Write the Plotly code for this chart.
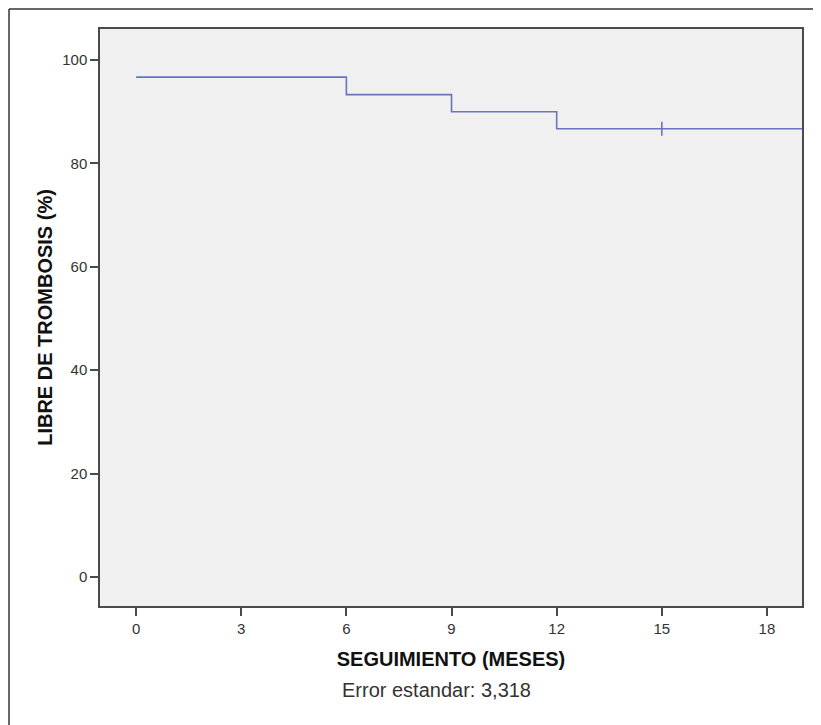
import plotly.graph_objects as go

# Kaplan-Meier data
event_months = [0, 6, 9, 12, 20]
survival_pct = [96.7, 93.3, 90.0, 86.7, 86.7]
censored_months = [15]
censored_pct = [86.7]

x_ticks = [0, 3, 6, 9, 12, 15, 18]
y_ticks = [0, 20, 40, 60, 80, 100]

line_color = "rgb(104,116,192)"
axis_color = "#4a4a4a"
font_family = "Arial, Liberation Sans, sans-serif"

fig = go.Figure()
fig.add_trace(go.Scatter(
    x=event_months, y=survival_pct, mode="lines",
    line=dict(shape="hv", color=line_color, width=1.6),
    showlegend=False, hoverinfo="skip"))
fig.add_trace(go.Scatter(
    x=censored_months, y=censored_pct, mode="markers",
    marker=dict(symbol="line-ns", size=10, line=dict(color=line_color, width=1.6)),
    showlegend=False, hoverinfo="skip"))

fig.update_layout(
    width=813, height=717,
    margin=dict(l=92, r=19, t=21, b=119),
    paper_bgcolor="white", plot_bgcolor="#f0f0f0",
    font=dict(family=font_family, color="#333"),
    xaxis=dict(
        range=[-1.03, 19.0], tickvals=x_ticks, ticktext=[str(v) for v in x_ticks],
        showgrid=False, zeroline=False, showline=True, mirror=True,
        linecolor=axis_color, linewidth=1.5,
        ticks="outside", ticklen=8, tickwidth=1.5, tickcolor=axis_color,
        tickfont=dict(size=15, color="#333"),
        title=dict(text="<b>SEGUIMIENTO (MESES)</b>", font=dict(size=20, color="#111"), standoff=16)),
    yaxis=dict(
        range=[-5.6, 106], tickvals=y_ticks, ticktext=[str(v) for v in y_ticks],
        showgrid=False, zeroline=False, showline=True, mirror=True,
        linecolor=axis_color, linewidth=1.5,
        ticks="outside", ticklen=8, tickwidth=1.5, tickcolor=axis_color,
        tickfont=dict(size=15, color="#333"),
        title=dict(text="<b>LIBRE DE TROMBOSIS (%)</b>", font=dict(size=20, color="#111"), standoff=4)),
    annotations=[dict(
        text="Error estandar: 3,318", xref="paper", yref="paper",
        x=0.48, y=-0.1456, xanchor="center", yanchor="middle", showarrow=False,
        font=dict(size=20, color="#333"))],
    shapes=[
        dict(type="line", xref="paper", yref="paper", x0=-0.1296, x1=1.2, y0=1.0347, y1=1.0347,
             line=dict(color="#333", width=1.5)),
        dict(type="line", xref="paper", yref="paper", x0=-0.1296, x1=-0.1296, y0=-0.3, y1=1.0347,
             line=dict(color="#333", width=1.5)),
    ],
)

fig.write_html("out.html")
